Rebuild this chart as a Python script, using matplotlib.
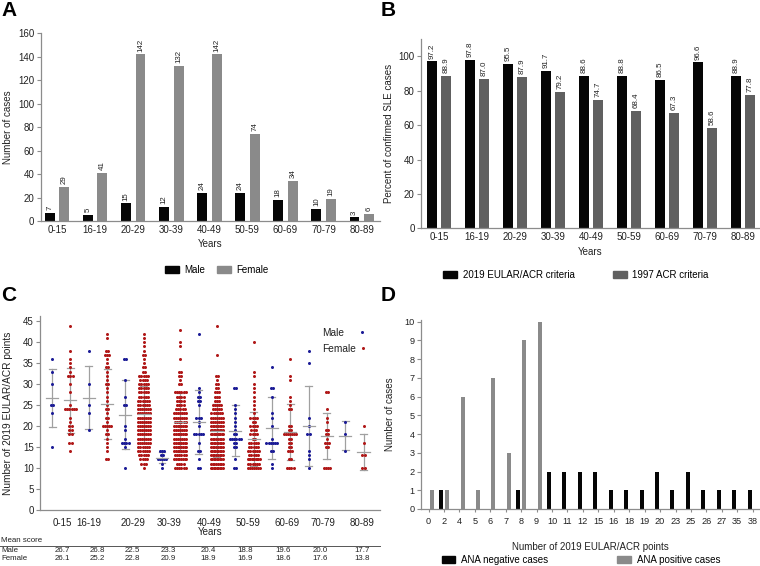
import matplotlib
matplotlib.use("Agg")
import matplotlib.pyplot as plt
from matplotlib.patches import Patch
from matplotlib.lines import Line2D
import numpy as np

plt.rcParams['font.family'] = ['Liberation Sans', 'DejaVu Sans']

# ---------------- data ----------------
age_groups = ["0-15", "16-19", "20-29", "30-39", "40-49", "50-59", "60-69", "70-79", "80-89"]

# Panel A
male_cases = [7, 5, 15, 12, 24, 24, 18, 10, 3]
female_cases = [29, 41, 142, 132, 142, 74, 34, 19, 6]

# Panel B
eular_pct = [97.2, 97.8, 95.5, 91.7, 88.6, 88.8, 86.5, 96.6, 88.9]
acr_pct = [88.9, 87.0, 87.9, 79.2, 74.7, 68.4, 67.3, 58.6, 77.8]

# Panel C: score distributions {score: count}
male_scores = [
    {36: 1, 33: 1, 30: 1, 25: 2, 23: 1, 15: 1},
    {38: 1, 30: 1, 25: 1, 23: 1, 19: 1},
    {36: 2, 31: 1, 27: 1, 25: 2, 20: 1, 19: 1, 17: 1, 16: 4, 15: 1, 10: 1},
    {14: 3, 13: 2, 12: 5, 11: 1, 10: 1},
    {42: 1, 29: 1, 28: 1, 27: 2, 26: 2, 25: 1, 22: 3, 21: 1, 20: 1, 18: 5, 16: 1, 14: 2, 12: 1, 10: 2},
    {29: 2, 25: 1, 24: 1, 23: 1, 22: 1, 21: 1, 20: 1, 19: 1, 18: 2, 17: 6, 16: 2, 15: 2, 12: 1, 10: 2},
    {34: 1, 29: 2, 27: 1, 23: 1, 22: 1, 20: 1, 17: 1, 16: 6, 14: 2, 11: 1, 10: 1},
    {38: 1, 35: 1, 22: 1, 20: 1, 18: 2, 14: 1, 13: 1, 12: 1, 10: 1},
    {21: 1, 18: 1, 14: 1},
]
female_scores = [
    {44: 1, 38: 1, 36: 1, 35: 1, 34: 1, 33: 1, 32: 3, 30: 1, 28: 1, 25: 1, 24: 6, 22: 1, 21: 1,
     20: 2, 19: 2, 18: 2, 16: 2, 14: 1},
    {42: 1, 41: 1, 38: 2, 37: 3, 36: 1, 35: 1, 34: 2, 33: 1, 32: 1, 31: 1, 30: 2, 29: 1, 28: 1,
     27: 1, 26: 1, 25: 1, 24: 2, 23: 1, 22: 2, 21: 1, 20: 5, 19: 1, 18: 2, 17: 1, 16: 1, 15: 1,
     14: 1, 12: 2},
    {42: 1, 41: 1, 40: 1, 39: 1, 38: 1, 37: 2, 36: 1, 35: 1, 34: 2, 33: 2, 32: 5, 31: 4, 30: 5,
     29: 5, 28: 5, 27: 5, 26: 6, 25: 6, 24: 7, 23: 7, 22: 7, 21: 7, 20: 7, 19: 7, 18: 7, 17: 7,
     16: 7, 15: 6, 14: 6, 13: 5, 12: 4, 11: 3, 10: 1},
    {43: 1, 40: 1, 39: 1, 36: 1, 33: 2, 32: 2, 31: 1, 30: 2, 28: 6, 27: 4, 26: 4, 25: 4, 24: 5,
     23: 7, 22: 7, 21: 6, 20: 8, 19: 7, 18: 8, 17: 7, 16: 8, 15: 8, 14: 8, 13: 6, 12: 8, 11: 4, 10: 6},
    {44: 1, 37: 1, 32: 2, 31: 1, 30: 2, 29: 2, 28: 3, 27: 3, 26: 3, 25: 5, 24: 5, 23: 6, 22: 7,
     21: 7, 20: 8, 19: 9, 18: 10, 17: 8, 16: 9, 15: 8, 14: 9, 13: 8, 12: 9, 11: 8, 10: 9},
    {40: 1, 33: 1, 32: 1, 30: 1, 29: 1, 28: 1, 27: 1, 26: 1, 25: 1, 24: 1, 23: 1, 22: 4, 21: 2,
     20: 4, 19: 3, 18: 4, 17: 2, 16: 5, 15: 5, 14: 6, 13: 5, 12: 10, 11: 6, 10: 7},
    {36: 1, 32: 1, 31: 1, 27: 1, 26: 1, 25: 1, 24: 2, 20: 2, 19: 2, 18: 7, 17: 2, 16: 2, 15: 2,
     14: 3, 12: 2, 10: 4},
    {28: 2, 24: 1, 22: 1, 21: 1, 19: 2, 18: 2, 17: 1, 16: 3, 15: 2, 10: 4},
    {20: 1, 16: 1, 13: 2, 10: 2},
]
# mean and SD bars as drawn
male_bar_mean = [26.7, 26.8, 22.7, 12.4, 20.9, 18.9, 19.6, 20.0, 17.7]
male_bar_sd = [7.0, 7.5, 8.3, 1.3, 7.6, 6.0, 7.4, 9.5, 3.5]
female_bar_mean = [26.1, 25.2, 22.8, 20.9, 18.9, 16.9, 18.6, 17.6, 13.8]
female_bar_sd = [7.7, 8.4, 6.8, 7.0, 6.3, 6.5, 6.7, 5.6, 4.3]
# table
male_mean_score = ["26.7", "26.8", "22.5", "23.3", "20.4", "18.8", "19.6", "20.0", "17.7"]
female_mean_score = ["26.1", "25.2", "22.8", "20.9", "18.9", "16.9", "18.6", "17.6", "13.8"]

# Panel D
points_cats = ["0", "2", "4", "5", "6", "7", "8", "9", "10", "11", "12", "15", "16", "18", "19",
               "20", "23", "25", "26", "27", "35", "38"]
ana_neg = [0, 1, 0, 0, 0, 0, 1, 0, 2, 2, 2, 2, 1, 1, 1, 2, 1, 2, 1, 1, 1, 1]
ana_pos = [1, 1, 6, 1, 7, 3, 9, 10, 0, 0, 0, 0, 0, 0, 0, 0, 0, 0, 0, 0, 0, 0]

# ---------------- figure ----------------
W, H = 760, 566
fig = plt.figure(figsize=(W / 100, H / 100), dpi=100)


def ax_px(l, t, r, b):
    return fig.add_axes([l / W, 1 - b / H, (r - l) / W, (b - t) / H])


def fx(px):
    return px / W


def fy(py):
    return 1 - py / H


SPINE = '#8c8c8c'
BLACK = '#050505'
GRAY_A = '#8a8a8a'
GRAY_B = '#606060'
TXT = '#222222'


def style(ax, fs=7, xtick_len=0):
    for s in ['top', 'right']:
        ax.spines[s].set_visible(False)
    for s in ['left', 'bottom']:
        ax.spines[s].set_color(SPINE)
        ax.spines[s].set_linewidth(0.9)
    ax.tick_params(axis='y', colors=SPINE, labelcolor=TXT, labelsize=fs, length=3, width=0.8, pad=1.5)
    ax.tick_params(axis='x', colors=SPINE, labelcolor=TXT, labelsize=fs, length=xtick_len, width=0.8, pad=3)


# ---- Panel A ----
axA = ax_px(40.7, 33.3, 380, 221)
x = np.arange(len(age_groups))
bw = 0.26
off = 0.19
axA.bar(x - off, male_cases, bw, color=BLACK)
axA.bar(x + off, female_cases, bw, color=GRAY_A)
for xi, v in zip(x, male_cases):
    axA.annotate(str(v), (xi - off, v), xytext=(0, 2), textcoords='offset points', rotation=90,
                 ha='center', va='bottom', fontsize=5.7, color=TXT)
for xi, v in zip(x, female_cases):
    axA.annotate(str(v), (xi + off, v), xytext=(0, 2), textcoords='offset points', rotation=90,
                 ha='center', va='bottom', fontsize=5.7, color=TXT)
axA.set_xlim(-0.43, 8.48)
axA.set_ylim(0, 160)
axA.set_yticks(range(0, 161, 20))
axA.set_xticks(x)
axA.set_xticklabels(age_groups)
style(axA)
axA.set_ylabel("Number of cases", fontsize=7, color=TXT, labelpad=4)
axA.set_xlabel("Years", fontsize=7, color=TXT, labelpad=3)
axA.legend(handles=[Patch(color=BLACK, label='Male'), Patch(color=GRAY_A, label='Female')],
           loc='center', bbox_to_anchor=(fx(217), fy(270)), bbox_transform=fig.transFigure,
           ncol=2, frameon=False, fontsize=7, handlelength=1.4, handleheight=0.7,
           columnspacing=1.2, handletextpad=0.6)

# ---- Panel B ----
axB = ax_px(421, 39.3, 759, 228.3)
offB = 0.184
axB.bar(x - offB, eular_pct, bw, color=BLACK)
axB.bar(x + offB, acr_pct, bw, color=GRAY_B)
for xi, v in zip(x, eular_pct):
    axB.annotate(f"{v:.1f}", (xi - offB, v), xytext=(0, 2), textcoords='offset points', rotation=90,
                 ha='center', va='bottom', fontsize=5.7, color=TXT)
for xi, v in zip(x, acr_pct):
    axB.annotate(f"{v:.1f}", (xi + offB, v), xytext=(0, 2), textcoords='offset points', rotation=90,
                 ha='center', va='bottom', fontsize=5.7, color=TXT)
axB.set_xlim(-0.47, 8.41)
axB.set_ylim(0, 110)
axB.set_yticks(range(0, 101, 20))
axB.set_xticks(x)
axB.set_xticklabels(age_groups)
style(axB)
axB.set_ylabel("Percent of confirmed SLE cases", fontsize=7, color=TXT, labelpad=3)
axB.set_xlabel("Years", fontsize=7, color=TXT, labelpad=3)
axB.legend(handles=[Patch(color=BLACK, label='2019 EULAR/ACR criteria'),
                    Patch(color=GRAY_B, label='1997 ACR criteria')],
           loc='center', bbox_to_anchor=(fx(576), fy(275)), bbox_transform=fig.transFigure,
           ncol=2, frameon=False, fontsize=7, handlelength=1.4, handleheight=0.7,
           columnspacing=3.95, handletextpad=0.6)

# ---- Panel C ----
axC = ax_px(40, 316.3, 380, 509.7)
MALE_C = '#1b1b96'
FEM_C = '#b01818'
ERR = '#a0a0a0'
max_half = 0.33
step = 0.12


def swarm(ax, xc, dist, color):
    xs, ys = [], []
    for score, n in dist.items():
        sp = step if n <= 1 else min(step, 2 * max_half / (n - 1))
        for i in range(n):
            xs.append(xc + (i - (n - 1) / 2) * sp)
            ys.append(score)
    ax.scatter(xs, ys, s=4.8, color=color, linewidths=0, zorder=3)


def errbar(ax, xc, m, sd):
    ax.plot([xc, xc], [m - sd, m + sd], color=ERR, lw=0.9, zorder=2)
    ax.plot([xc - 0.19, xc + 0.19], [m + sd, m + sd], color=ERR, lw=0.9, zorder=2)
    ax.plot([xc - 0.19, xc + 0.19], [m - sd, m - sd], color=ERR, lw=0.9, zorder=2)
    ax.plot([xc - 0.33, xc + 0.33], [m, m], color=ERR, lw=0.9, zorder=4)


for g in range(len(age_groups)):
    xm, xf = 2 * g, 2 * g + 1
    errbar(axC, xm, male_bar_mean[g], male_bar_sd[g])
    errbar(axC, xf, female_bar_mean[g], female_bar_sd[g])
    swarm(axC, xm, male_scores[g], MALE_C)
    swarm(axC, xf, female_scores[g], FEM_C)

axC.set_xlim(-0.66, 17.9)
axC.set_ylim(0, 46.2)
axC.set_yticks(range(0, 46, 5))
tick_pos_C = [0.55, 2.0, 4.4, 6.4, 8.6, 10.7, 12.8, 14.8, 16.9]
axC.set_xticks(tick_pos_C)
axC.set_xticklabels(age_groups)
style(axC, fs=7)
axC.tick_params(axis='x', pad=6)
axC.set_ylabel("Number of 2019 EULAR/ACR points", fontsize=7.3, color=TXT, labelpad=7)
axC.set_xlabel("Years", fontsize=7, color=TXT, labelpad=-1)

# legend of panel C (text left aligned, marker at right)
fig.text(fx(322), fy(333), "Male", fontsize=7.3, color=TXT, va='center', ha='left')
fig.text(fx(322), fy(349), "Female", fontsize=7.3, color=TXT, va='center', ha='left')
fig.add_artist(Line2D([fx(362)], [fy(332)], ls='', marker='o', ms=2.2, color=MALE_C, mew=0))
fig.add_artist(Line2D([fx(363)], [fy(348)], ls='', marker='o', ms=2.2, color=FEM_C, mew=0))

# table under C
table_pos = [0.55, 2.46, 4.37, 6.34, 8.52, 10.55, 12.6, 14.64, 16.94]
fig.text(fx(1), fy(541), "Mean score", fontsize=5.7, color=TXT, va='center', ha='left')
fig.add_artist(Line2D([0, fx(380)], [fy(545.5), fy(545.5)], color='#555555', lw=0.7))
fig.text(fx(1), fy(550), "Male", fontsize=5.7, color=TXT, va='center', ha='left')
fig.text(fx(1), fy(559), "Female", fontsize=5.7, color=TXT, va='center', ha='left')
for pc, mv, fv in zip(table_pos, male_mean_score, female_mean_score):
    xf_fig = (fig.transFigure.inverted().transform(axC.transData.transform((pc, 0))))[0]
    fig.text(xf_fig, fy(550), mv, fontsize=5.7, color=TXT, va='center', ha='center')
    fig.text(xf_fig, fy(559), fv, fontsize=5.7, color=TXT, va='center', ha='center')

# ---- Panel D ----
axD = ax_px(421, 319.7, 759, 509)
xd = np.arange(len(points_cats))
bwd = 0.26
offd = 0.2
axD.bar(xd - offd, ana_neg, bwd, color=BLACK)
axD.bar(xd + offd, ana_pos, bwd, color=GRAY_A)
axD.set_xlim(-0.49, 21.41)
axD.set_ylim(0, 10.1)
axD.set_yticks(range(0, 11))
axD.set_xticks(xd)
axD.set_xticklabels(points_cats)
style(axD, fs=6.6, xtick_len=2.5)
axD.set_ylabel("Number of cases", fontsize=7, color=TXT, labelpad=7)
axD.set_xlabel("Number of 2019 EULAR/ACR points", fontsize=7, color=TXT, labelpad=12)
axD.legend(handles=[Patch(color=BLACK, label='ANA negative cases'),
                    Patch(color=GRAY_A, label='ANA positive cases')],
           loc='center', bbox_to_anchor=(fx(581), fy(560)), bbox_transform=fig.transFigure,
           ncol=2, frameon=False, fontsize=7, handlelength=1.4, handleheight=0.7,
           columnspacing=7.1, handletextpad=0.6)

# panel letters
for lab, (px, py) in zip("ABCD", [(1, 1), (381, 1), (1, 286), (381, 286)]):
    fig.text(fx(px), fy(py), lab, fontsize=15, fontweight='bold', va='top', ha='left', color='black')

fig.savefig("out.png", dpi=100)
